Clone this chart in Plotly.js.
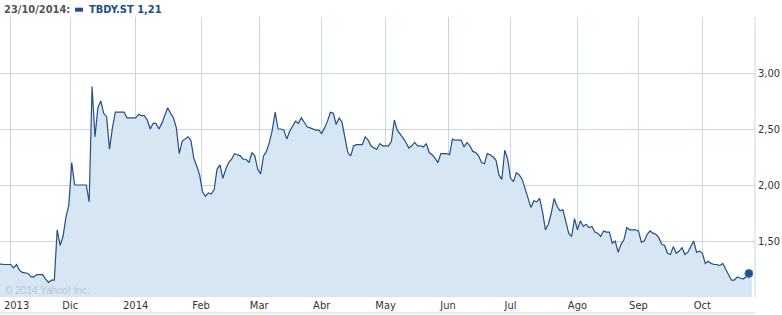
<!DOCTYPE html>
<html><head><meta charset="utf-8">
<script src="https://cdn.plot.ly/plotly-3.0.1.min.js"></script>
<style>html,body{margin:0;padding:0;background:#fff;overflow:hidden}</style>
</head><body><div id="chart" style="width:782px;height:315px"></div>
<script>
const dates = [
'2013-10-24','2013-10-28','2013-10-30','2013-11-01','2013-11-04','2013-11-05','2013-11-06','2013-11-07','2013-11-11','2013-11-12',
'2013-11-13','2013-11-14','2013-11-18','2013-11-19','2013-11-20','2013-11-21','2013-11-22','2013-11-25','2013-11-26','2013-11-27',
'2013-11-28','2013-11-29','2013-12-02','2013-12-03','2013-12-04','2013-12-05','2013-12-06','2013-12-09','2013-12-10','2013-12-11',
'2013-12-12','2013-12-13','2013-12-16','2013-12-17','2013-12-18','2013-12-19','2013-12-20','2013-12-23','2013-12-24','2013-12-26',
'2013-12-27','2013-12-30','2013-12-31','2014-01-01','2014-01-02','2014-01-03','2014-01-06','2014-01-07','2014-01-08','2014-01-09',
'2014-01-10','2014-01-13','2014-01-14','2014-01-15','2014-01-16','2014-01-17','2014-01-20','2014-01-21','2014-01-22','2014-01-23',
'2014-01-24','2014-01-27','2014-01-28','2014-01-29','2014-01-30','2014-01-31','2014-02-03','2014-02-04','2014-02-05','2014-02-06',
'2014-02-07','2014-02-10','2014-02-11','2014-02-12','2014-02-13','2014-02-14','2014-02-17','2014-02-18','2014-02-19','2014-02-20',
'2014-02-21','2014-02-24','2014-02-25','2014-02-26','2014-02-27','2014-02-28','2014-03-03','2014-03-04','2014-03-05','2014-03-06',
'2014-03-07','2014-03-10','2014-03-11','2014-03-12','2014-03-13','2014-03-14','2014-03-17','2014-03-18','2014-03-19','2014-03-20',
'2014-03-21','2014-03-24','2014-03-25','2014-03-26','2014-03-27','2014-03-28','2014-03-31','2014-04-01','2014-04-02','2014-04-03',
'2014-04-04','2014-04-07','2014-04-08','2014-04-09','2014-04-10','2014-04-11','2014-04-14','2014-04-15','2014-04-16','2014-04-17',
'2014-04-18','2014-04-21','2014-04-22','2014-04-23','2014-04-24','2014-04-25','2014-04-28','2014-04-29','2014-04-30','2014-05-01',
'2014-05-02','2014-05-05','2014-05-06','2014-05-07','2014-05-08','2014-05-09','2014-05-12','2014-05-13','2014-05-14','2014-05-15',
'2014-05-16','2014-05-19','2014-05-20','2014-05-21','2014-05-22','2014-05-23','2014-05-26','2014-05-27','2014-05-28','2014-05-29',
'2014-05-30','2014-06-02','2014-06-03','2014-06-04','2014-06-05','2014-06-06','2014-06-09','2014-06-10','2014-06-11','2014-06-12',
'2014-06-13','2014-06-16','2014-06-17','2014-06-18','2014-06-19','2014-06-20','2014-06-23','2014-06-24','2014-06-25','2014-06-26',
'2014-06-27','2014-06-30','2014-07-01','2014-07-02','2014-07-03','2014-07-04','2014-07-07','2014-07-08','2014-07-09','2014-07-10',
'2014-07-11','2014-07-14','2014-07-15','2014-07-16','2014-07-17','2014-07-18','2014-07-21','2014-07-22','2014-07-23','2014-07-24',
'2014-07-25','2014-07-28','2014-07-29','2014-07-30','2014-07-31','2014-08-01','2014-08-04','2014-08-05','2014-08-06','2014-08-07',
'2014-08-08','2014-08-11','2014-08-12','2014-08-13','2014-08-14','2014-08-15','2014-08-18','2014-08-19','2014-08-20','2014-08-21',
'2014-08-22','2014-08-25','2014-08-26','2014-08-27','2014-08-28','2014-08-29','2014-09-01','2014-09-02','2014-09-03','2014-09-04',
'2014-09-05','2014-09-08','2014-09-09','2014-09-10','2014-09-11','2014-09-12','2014-09-15','2014-09-16','2014-09-17','2014-09-18',
'2014-09-19','2014-09-22','2014-09-23','2014-09-24','2014-09-25','2014-09-26','2014-09-29','2014-09-30','2014-10-01','2014-10-02',
'2014-10-03','2014-10-06','2014-10-07','2014-10-08','2014-10-09','2014-10-10','2014-10-13','2014-10-14','2014-10-15','2014-10-16',
'2014-10-17','2014-10-20','2014-10-21','2014-10-22','2014-10-23','2014-10-24'
];
const closes = [
1.30,1.29,1.29,1.29,1.26,1.29,1.24,1.22,1.21,1.18,
1.18,1.20,1.20,1.16,1.13,1.15,1.15,1.60,1.46,1.54,
1.71,1.82,2.20,2.00,2.00,2.00,2.00,2.00,1.85,2.88,
2.43,2.69,2.75,2.64,2.61,2.32,2.51,2.65,2.65,2.65,
2.60,2.60,2.60,2.60,2.63,2.62,2.62,2.58,2.50,2.55,
2.55,2.50,2.55,2.62,2.69,2.64,2.60,2.51,2.28,2.39,
2.41,2.43,2.40,2.24,2.17,2.09,1.94,1.90,1.93,1.92,
1.96,2.14,2.18,2.06,2.14,2.20,2.23,2.28,2.27,2.26,
2.23,2.23,2.20,2.29,2.26,2.14,2.10,2.26,2.30,2.38,
2.49,2.65,2.50,2.50,2.49,2.41,2.48,2.53,2.57,2.55,
2.60,2.56,2.52,2.51,2.50,2.49,2.49,2.46,2.51,2.57,
2.65,2.64,2.54,2.60,2.56,2.41,2.29,2.26,2.35,2.36,
2.36,2.36,2.43,2.40,2.35,2.33,2.32,2.37,2.35,2.35,
2.35,2.39,2.58,2.49,2.46,2.42,2.38,2.33,2.35,2.38,
2.35,2.35,2.34,2.37,2.29,2.27,2.24,2.20,2.28,2.28,
2.28,2.27,2.41,2.40,2.40,2.40,2.34,2.38,2.35,2.30,
2.29,2.26,2.20,2.19,2.28,2.27,2.25,2.22,2.09,2.05,
2.31,2.23,2.06,2.03,2.11,2.09,2.05,1.97,1.88,1.80,
1.86,1.85,1.88,1.76,1.60,1.65,1.75,1.88,1.81,1.77,
1.78,1.68,1.57,1.54,1.70,1.60,1.68,1.63,1.65,1.62,
1.63,1.58,1.57,1.54,1.59,1.58,1.58,1.48,1.50,1.40,
1.47,1.51,1.62,1.60,1.60,1.60,1.59,1.49,1.50,1.56,
1.59,1.57,1.56,1.53,1.47,1.46,1.39,1.38,1.45,1.39,
1.41,1.44,1.38,1.40,1.45,1.50,1.40,1.41,1.39,1.30,
1.32,1.30,1.29,1.29,1.28,1.30,1.25,1.20,1.15,1.15,
1.18,1.17,1.16,1.18,1.21,1.24
];
const monthTicks = ['2013-11-01','2013-11-29 12:00','2014-01-01','2014-01-31 12:00','2014-02-28 12:00','2014-04-01',
                    '2014-05-01','2014-05-30 12:00','2014-07-01','2014-08-01','2014-09-01','2014-10-01'];
const monthLabels = ['2013','Dic','2014','Feb','Mar','Abr','May','Jun','Jul','Ago','Sep','Oct'];
const priceTicks = [1.0, 1.5, 2.0, 2.5, 3.0, 3.5];
const priceLabels = ['', '1,50', '2,00', '2,50', '3,00', ''];
const seriesName = 'TBDY.ST';
const markedDate = '2014-10-23';
const xRange = ['2013-10-28 07:40', '2014-10-27 02:30'];
const yRange = [1.0, 3.5];

const mi = dates.indexOf(markedDate);
const mv = closes[mi];
const p = markedDate.split('-');
const headerDate = p[2] + '/' + p[1] + '/' + p[0] + ':';
const valText = mv.toFixed(2).replace('.', ',');

const LINE = '#234f86';
const FILL = '#d6e6f2';
const GRID = '#c9d6e0';
const FONT = '"DejaVu Sans Condensed", "DejaVu Sans", sans-serif';

// first month label sits against the left edge, so it is drawn as an annotation
const tickText = monthLabels.map((t, i) => i === 0 ? '' : t);

const traces = [
  {x: dates, y: closes, type: 'scatter', mode: 'lines', fill: 'tozeroy', fillcolor: FILL,
   line: {color: LINE, width: 1.2}, hoverinfo: 'skip', showlegend: false},
  {x: [dates[mi]], y: [mv], type: 'scatter', mode: 'markers',
   marker: {color: LINE, size: 8, line: {color: '#4f7fb3', width: 1}}, hoverinfo: 'skip', showlegend: false}
];

const layout = {
  width: 782, height: 315,
  margin: {l: 0, r: 27, t: 17, b: 18, pad: 0},
  paper_bgcolor: '#fff', plot_bgcolor: '#fff',
  separators: ',.',
  showlegend: false,
  font: {family: FONT, size: 11, color: '#333'},
  xaxis: {
    type: 'date', range: xRange,
    rangebreaks: [{bounds: ['sat', 'mon']}],
    tickmode: 'array', tickvals: monthTicks, ticktext: tickText,
    ticklabeloverflow: 'allow',
    showgrid: true, gridcolor: GRID, gridwidth: 1,
    ticks: '', showline: false, zeroline: false,
    tickfont: {family: FONT, size: 11, color: '#333'}
  },
  yaxis: {
    range: yRange, side: 'right',
    tickmode: 'array', tickvals: priceTicks, ticktext: priceLabels,
    showgrid: true, gridcolor: GRID, gridwidth: 1,
    ticks: '', zeroline: false, showline: false,
    ticklabelstandoff: 2,
    tickfont: {family: FONT, size: 11, color: '#333'}
  },
  shapes: [
    {type: 'line', xref: 'paper', yref: 'paper', x0: 1, x1: 1, y0: 0, y1: 1, line: {color: GRID, width: 1}},
    {type: 'line', xref: 'paper', yref: 'paper', x0: 0, x1: 1, y0: -0.057, y1: -0.057, line: {color: '#d4d8dc', width: 1}},
    {type: 'rect', xref: 'paper', yref: 'paper', x0: 75/755, x1: 83/755, y0: (297 - 11.7)/280, y1: (297 - 7.7)/280,
     fillcolor: LINE, line: {width: 0}}
  ],
  annotations: [
    {xref: 'paper', yref: 'paper', x: 2/755, y: -9/280, xanchor: 'left', yanchor: 'middle', showarrow: false,
     text: monthLabels[0], font: {family: FONT, size: 11, color: '#333'}},
    {xref: 'paper', yref: 'paper', x: 2/755, y: (297 - 9.5)/280, xanchor: 'left', yanchor: 'middle', showarrow: false,
     text: '<b>' + headerDate + '</b>', font: {family: FONT, size: 11, color: '#555'}},
    {xref: 'paper', yref: 'paper', x: 87/755, y: (297 - 9.5)/280, xanchor: 'left', yanchor: 'middle', showarrow: false,
     text: '<b>' + seriesName + ' ' + valText + '</b>', font: {family: FONT, size: 11, color: '#234f86'}},
    {xref: 'paper', yref: 'paper', x: 3/755, y: (297 - 290)/280, xanchor: 'left', yanchor: 'middle', showarrow: false,
     text: '© 2014 Yahoo! Inc.', font: {family: '"Liberation Sans", Arial, sans-serif', size: 10, color: '#bcc6d0'}}
  ]
};

Plotly.newPlot('chart', traces, layout, {staticPlot: true, displayModeBar: false});
</script>
</body></html>
